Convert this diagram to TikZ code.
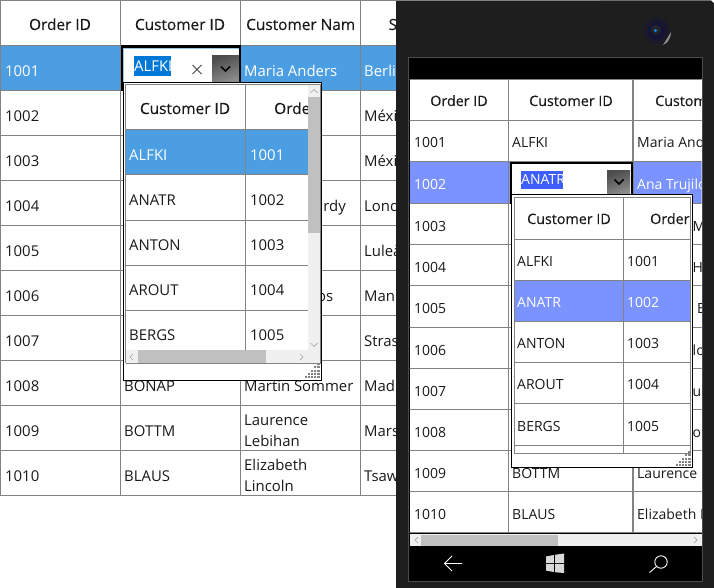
\documentclass[tikz,border=0pt]{standalone}
\usepackage{fontspec}
\setmainfont{Open Sans}
\newfontfamily\hfont[FakeBold=0.35]{Open Sans}
\definecolor{grid}{HTML}{828282}
\definecolor{sel}{HTML}{4C9EE3}
\definecolor{selb}{HTML}{7B93FF}
\definecolor{hi}{HTML}{0078D7}
\definecolor{hib}{HTML}{3F5FFB}
\definecolor{dev}{HTML}{1E1E1E}
\definecolor{ink}{HTML}{1A1A1A}
\definecolor{thumb}{HTML}{C0C0C0}
\definecolor{track}{HTML}{F0F0F0}
\definecolor{arr}{HTML}{A6A6A6}
\tikzset{
  gridline/.style={draw=grid,line width=1pt},
  txt/.style={anchor=base west,inner sep=0pt,text=ink,font=\fontsize{14.9}{16}\selectfont},
  txs/.style={txt,font=\fontsize{14}{16}\selectfont},
  head/.style={anchor=base,inner sep=0pt,text=ink,font=\hfont\fontsize{15.4}{16}\selectfont},
  heads/.style={anchor=base,inner sep=0pt,text=ink,font=\hfont\fontsize{14.3}{16}\selectfont},
  chev/.style={draw=arr,line width=0.7pt,fill=none},
  popup/.style={draw=black,line width=1pt,fill=white},
}
\newcommand{\griprip}[2]{%
  \foreach \i in {0,...,4}{\foreach \j in {0,...,\i}{%
    \fill[grid] ({#1-\j*3.2-1},{#2-(4-\i)*3.2-1}) rectangle ++(-2.1,-2.1);}}}
\begin{document}
\begin{tikzpicture}[x=1pt,y=-1pt]
\useasboundingbox (0,0) rectangle (714,588);
\fill[white] (0,0) rectangle (714,588);
%% ---------- left grid
\fill[sel] (0,45.5) rectangle (396,90.5);
\foreach \y in {0.5,45.5,90.5,135.5,180.5,225.5,270.5,315.5,360.5,405.5,450.5,495.5}
  \draw[gridline] (0,\y) -- (396,\y);
\foreach \x in {0.5,120.5,240.5,360.5}
  \draw[gridline] (\x,0) -- (\x,495.5);
\node[head] (lh1) at (60,30) {Order ID};
\node[head] (lh2) at (180,30) {Customer ID};
\node[head,anchor=base west] (lh3) at (246,30) {Customer Nam};
\node[head,anchor=base west] (lh4) at (388.5,30) {S};
\node[txt,text=white] (l1) at (5,76.5) {1001};
\foreach \y/\t [count=\i] in {121.5/1002,166.5/1003,211.5/1004,256.5/1005,301.5/1006,346.5/1007,391.5/1008,436.5/1009,481.5/1010}
  \node[txt] (la\i) at (5,\y) {\t};
\node[txt,text=white] (lc1) at (244,76.5) {Maria Anders};
\node[txt] (lc2) at (244,391) {Martin Sommer};
\node[txt] (lc3) at (244,425) {Laurence};
\node[txt] (lc4) at (244,446) {Lebihan};
\node[txt] (lc5) at (244,470) {Elizabeth};
\node[txt] (lc6) at (244,491) {Lincoln};
\node[txt,anchor=base east] (lc7) at (346,211) {rdy};
\node[txt,anchor=base east] (lc8) at (333.5,301) {os};
\node[txt] (lb1) at (124,391.5) {BONAP};
\node[txt] (lb2) at (124,436.5) {BOTTM};
\node[txt] (lb3) at (124,481.5) {BLAUS};
\node[txt,text=white] (ld0) at (364,76.5) {Berli};
\foreach \y/\t [count=\i] in {121.5/Méxi,166.5/Méxi,211.5/Lond,256.5/Luleå,301.5/Man,346.5/Stras,391.5/Mad,436.5/Mars,481.5/Tsaw}
  \node[txt] (ld\i) at (364,\y) {\t};
%% editor, left
\fill[black] (120.5,45.5) rectangle (241,91.5);
\fill[sel!60!white] (122.8,47.8) rectangle (239,91);
\fill[white] (123.8,48.8) rectangle (238.5,91);
\fill[hi] (134,56) rectangle (171,76);
\node[txt,text=white] (ed1) at (134,71.5) {ALFKI};
\draw[ink!80,line width=0.8pt] (192.5,65) -- (201.5,74) (201.5,65) -- (192.5,74);
\shade[left color=black!70,right color=black!45,shading angle=20] (212,56) rectangle (239,82);
\draw[black,line width=1.7pt] (221,66.5) -- (225.5,71) -- (230,66.5);
%% popup, left
\draw[popup] (123,82.5) rectangle (321.5,380);
\fill[sel] (126,130) rectangle (320,175);
\foreach \y in {84.5,129.5,175,220,265,310}
  \draw[gridline] (125.5,\y) -- (320,\y);
\draw[gridline] (125.5,84) -- (125.5,363);
\draw[gridline] (320.5,84) -- (320.5,363);
\draw[gridline] (245.5,84) -- (245.5,350);
\node[head] (p1) at (185,114) {Customer ID};
\node[head,anchor=base west] (p2) at (274,114) {Orde};
\node[txt,text=white] (p3) at (129,160.5) {ALFKI};
\node[txt,text=white] (p4) at (250,160.5) {1001};
\foreach \y/\a/\n [count=\i] in {205.5/ANATR/1002,250.5/ANTON/1003,295.5/AROUT/1004,340.5/BERGS/1005}{
  \node[txt] (pa\i) at (129,\y) {\a};
  \node[txt] (pb\i) at (250,\y) {\n};
}
\fill[track] (308,85) rectangle (320,350);
\fill[thumb] (308,97) rectangle (320,233);
\draw[chev] (310.5,93) -- (314,89.5) -- (317.5,93);
\draw[chev] (310.5,343) -- (314,346.5) -- (317.5,343);
\fill[track] (126,350) rectangle (320,363);
\fill[thumb] (138,350) rectangle (266,363);
\draw[chev] (133,354) -- (130,357) -- (133,360);
\draw[chev] (300,354) -- (303,357) -- (300,360);
\draw[gridline] (125.5,363.5) -- (320.5,363.5);
\griprip{320.5}{379}
%% ---------- device
\fill[dev] (396,0.5) -- (711,0.5) -- (714,3.5) -- (714,588) -- (396,588) -- cycle;
\draw[grid,line width=1pt] (396,0.5) -- (600,0.5);
\shade[inner color=black!60!blue!60!dev,outer color=dev] (656,30) circle (15);
\fill[black!85] (656,30) circle (5);
\fill[blue!45!cyan] (655.5,30.5) circle (1.6);
\fill[black!45] (663,45) -- (671,32) .. controls (671,38) and (668,43) .. (663,45) -- cycle;
%% screen
\fill[black] (408,58) rectangle (702.5,581);
\draw[black!70,line width=1pt] (408,58) rectangle (702.5,581);
\fill[white] (409.5,79) rectangle (701.5,533);
\begin{scope}
\clip (409.5,79) rectangle (701.5,533);
\fill[selb] (409.5,162) rectangle (701.5,203);
\foreach \y in {79.5,120.5,161.5,203,244.5,285.5,327,368.5,409.5,450.5,491.5,532.5}
  \draw[gridline] (409,\y) -- (702,\y);
\draw[gridline] (508.5,79) -- (508.5,533);
\draw[gridline,line width=1.6pt] (633,79) -- (633,533);
\node[heads] (rh1) at (459,106) {Order ID};
\node[heads] (rh2) at (571,106) {Customer ID};
\node[heads,anchor=base west] (rh3) at (655,106) {Custom};
\node[txs,text=white] (r1) at (414,189.3) {1002};
\foreach \y/\t [count=\i] in {148/1001,231/1003,272/1004,313.5/1005,355/1006,396/1007,437/1008,478/1009,519/1010}
  \node[txs] (ra\i) at (414,\y) {\t};
\node[txs] (rb1) at (512,148) {ALFKI};
\node[txs] (rb2) at (512,478) {BOTTM};
\node[txs] (rb3) at (512,519) {BLAUS};
\node[txs] (rc1) at (637,148) {Maria And};
\node[txs,text=white] (rc2) at (637,189.3) {Ana Trujilo};
\node[txs] (rc3) at (637,478) {Laurence L};
\node[txs] (rc4) at (637,519) {Elizabeth L};
\foreach \y/\x/\t [count=\i] in {231/692.5/M,272/692.5/H,313.5/697/E,355/692.5/lo,396/692.5/ue,437/692.5/or}
  \node[txs] (rf\i) at (\x,\y) {\t};
\end{scope}
%% editor, right
\fill[black] (509.5,162) rectangle (633,204);
\fill[white] (511.5,164) rectangle (631,204);
\fill[hib] (520.7,171) rectangle (563,189);
\node[txs,text=white] (ed2) at (521,185) {ANATR};
\shade[left color=black!70,right color=black!45,shading angle=20] (607,171) rectangle (630,194);
\draw[black,line width=1.7pt] (614.5,179.5) -- (619,184) -- (623.5,179.5);
%% popup, right
\draw[popup] (511,194.5) rectangle (692,467.5);
\fill[selb] (514,280) rectangle (691,321);
\foreach \y in {197.5,239,280,321,362.5,403.5,445,453}
  \draw[gridline] (513.5,\y) -- (690.5,\y);
\draw[gridline] (514,197) -- (514,453);
\draw[gridline] (690.5,197) -- (690.5,453);
\draw[gridline] (623.5,197) -- (623.5,453);
\node[heads] (q1) at (569,224) {Customer ID};
\node[heads,anchor=base west] (q2) at (650,224) {Order};
\node[txs,text=white] (q3) at (517,307) {ANATR};
\node[txs,text=white] (q4) at (627,307) {1002};
\foreach \y/\a/\n [count=\i] in {266/ALFKI/1001,348/ANTON/1003,389/AROUT/1004,431/BERGS/1005}{
  \node[txs] (qa\i) at (517,\y) {\a};
  \node[txs] (qb\i) at (627,\y) {\n};
}
\griprip{691.5}{467}
%% device scrollbar and nav
\fill[track] (409.5,534) rectangle (701.5,546);
\fill[thumb] (421,534.5) rectangle (558,546);
\draw[chev] (418,537) -- (415,540) -- (418,543);
\draw[chev] (694,537) -- (697,540) -- (694,543);
\draw[white,line width=0.9pt] (462,563.5) -- (444.5,563.5) (452,556) -- (444.5,563.5) -- (452,571);
\fill[white!85!black] (546,556.5) -- (553.8,555) -- (553.8,563) -- (546,563) -- cycle
  (555,554.8) -- (564,553.5) -- (564,563) -- (555,563) -- cycle
  (546,564.2) -- (553.8,564.2) -- (553.8,572) -- (546,570.6) -- cycle
  (555,564.2) -- (564,564.2) -- (564,573) -- (555,572.2) -- cycle;
\draw[white,line width=0.9pt] (661,562) circle (6.2) (656.6,566.4) -- (649.5,572.5);
\end{tikzpicture}
\end{document}
